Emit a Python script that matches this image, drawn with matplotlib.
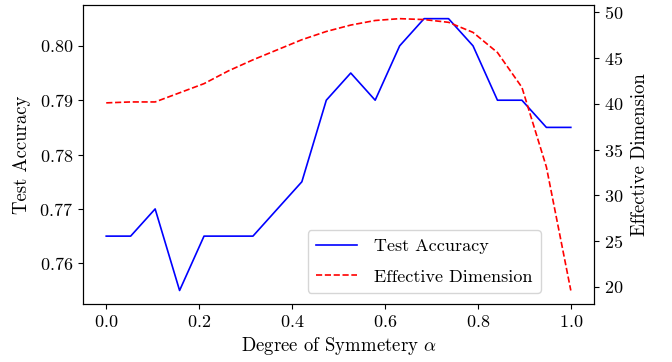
import matplotlib
matplotlib.use("Agg")
import matplotlib.pyplot as plt
import numpy as np

plt.rcParams['font.family'] = ['cmr10', 'DejaVu Serif']
plt.rcParams['mathtext.fontset'] = 'cm'
plt.rcParams['axes.unicode_minus'] = False
plt.rcParams['axes.formatter.use_mathtext'] = True

alpha = [0.0, 0.0526, 0.1053, 0.1579, 0.2105, 0.2632, 0.3158, 0.3684, 0.4211, 0.4737,
         0.5263, 0.5789, 0.6316, 0.6842, 0.7368, 0.7895, 0.8421, 0.8947, 0.9474, 1.0]
test_acc = [0.765, 0.765, 0.770, 0.755, 0.765, 0.765, 0.765, 0.770, 0.775, 0.790,
            0.795, 0.790, 0.800, 0.805, 0.805, 0.800, 0.790, 0.790, 0.785, 0.785]
eff_dim = [40.1, 40.2, 40.2, 41.2, 42.2, 43.6, 44.8, 45.9, 47.0, 47.9,
           48.6, 49.1, 49.3, 49.2, 48.9, 47.8, 45.6, 41.8, 33.1, 19.6]

fig = plt.figure(figsize=(6.72, 3.62), dpi=100)
ax = fig.add_axes([0.1235, 0.160, 0.7605, 0.826])
l1, = ax.plot(alpha, test_acc, color='blue', lw=1.2, label='Test Accuracy')
ax.set_xlabel(r'Degree of Symmetery $\alpha$', fontsize=13.5)
ax.set_ylabel('Test Accuracy', fontsize=13.5, labelpad=6)
ax.set_yticks([0.76, 0.77, 0.78, 0.79, 0.80])
ax.tick_params(labelsize=13)

ax2 = ax.twinx()
l2, = ax2.plot(alpha, eff_dim, color='red', ls='--', lw=1.2, label='Effective Dimension')
ax2.set_ylabel('Effective Dimension', fontsize=13.5, labelpad=6)
ax2.set_yticks([20, 25, 30, 35, 40, 45, 50])
ax2.tick_params(labelsize=13)

ax2.legend([l1, l2], ['Test Accuracy', 'Effective Dimension'], loc='lower left',
           bbox_to_anchor=(0.44, 0.037), borderaxespad=0, fontsize=13,
           labelspacing=0.8, borderpad=0.47, handletextpad=0.9, handlelength=2.27)

fig.savefig('out.png', dpi=100)
